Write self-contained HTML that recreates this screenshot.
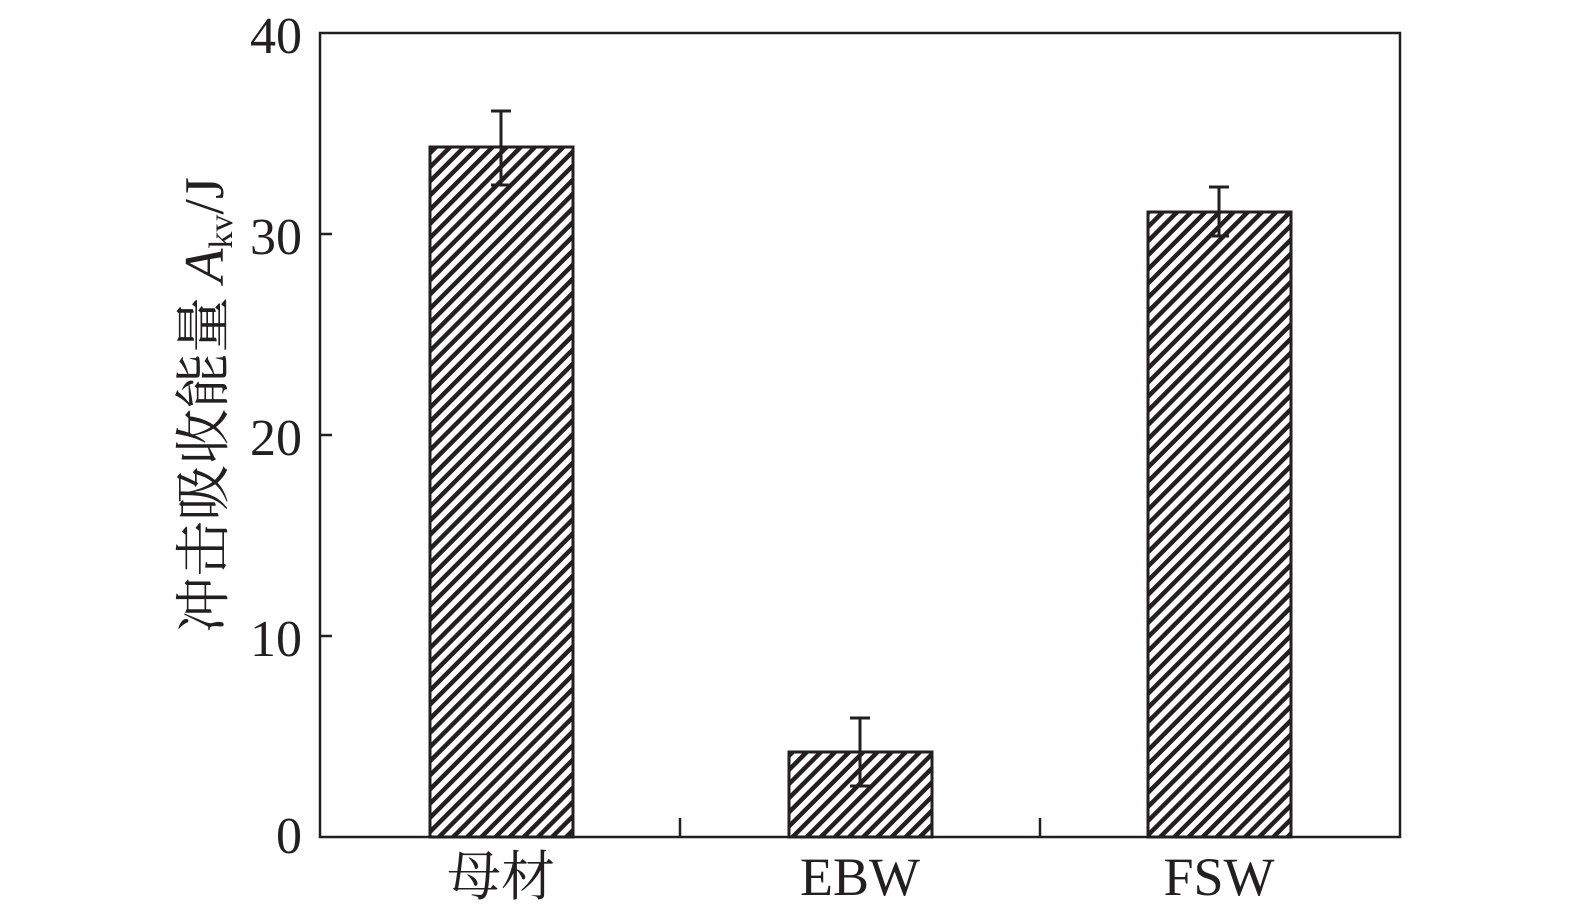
<!DOCTYPE html>
<html><head><meta charset="utf-8"><style>html,body{margin:0;padding:0;background:#fff;}svg{display:block}
.t{font-family:"Liberation Serif","Noto Serif CJK SC",serif;fill:#231f20}</style></head>
<body>
<svg width="1575" height="920" viewBox="0 0 1575 920" xmlns="http://www.w3.org/2000/svg">
<defs>
<pattern id="h" patternUnits="userSpaceOnUse" width="10" height="10" patternTransform="rotate(45)">
<rect width="10" height="10" fill="#fff"/>
<rect x="0" y="0" width="4.5" height="10" fill="#231f20"/>
</pattern>
</defs>
<g stroke="#231f20" stroke-width="2.5" fill="none">
<rect x="320" y="33" width="1080" height="804"/>
<line x1="320" y1="234" x2="332" y2="234"/>
<line x1="320" y1="435" x2="332" y2="435"/>
<line x1="320" y1="636" x2="332" y2="636"/>
<line x1="680" y1="837" x2="680" y2="818"/>
<line x1="1040" y1="837" x2="1040" y2="818"/>
</g>
<g stroke="#231f20" stroke-width="3">
<rect x="430" y="147" width="143" height="690" fill="url(#h)"/>
<rect x="789" y="752" width="143" height="85" fill="url(#h)"/>
<rect x="1148" y="212" width="143" height="625" fill="url(#h)"/>
<path d="M501 111V185M491 111H511M491 185H511" fill="none"/>
<path d="M860 718V786M850 718H870M850 786H870" fill="none"/>
<path d="M1219 187V236M1209 187H1229M1209 236H1229" fill="none"/>
</g>
<g class="t" font-size="52" text-anchor="end">
<text x="302" y="53">40</text>
<text x="302" y="254">30</text>
<text x="302" y="455">20</text>
<text x="302" y="656">10</text>
<text x="302" y="853">0</text>
</g>
<g class="t" font-size="54" text-anchor="middle">
<text x="501" y="895">母材</text>
<text x="860" y="895">EBW</text>
<text x="1219" y="895">FSW</text>
</g>
<text class="t" transform="translate(223,405) rotate(-90)" text-anchor="middle" font-size="56">冲击吸收能量 <tspan font-style="italic">A</tspan><tspan font-size="34" dy="9">kv</tspan><tspan dy="-9">/J</tspan></text>
</svg>
</body></html>
